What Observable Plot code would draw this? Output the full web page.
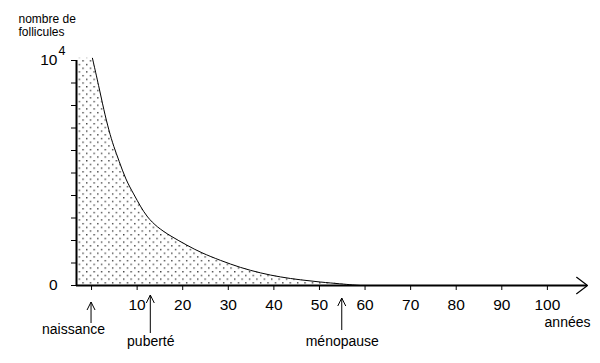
<!DOCTYPE html>
<html><head><meta charset="utf-8">
<script src="https://cdn.jsdelivr.net/npm/d3@7"></script>
<script src="https://cdn.jsdelivr.net/npm/@observablehq/plot@0.6"></script>
<style>
body{margin:0;background:#fff;}
#chart{width:600px;height:363px;}
</style></head><body><div id="chart"></div>
<script>
// Curve: age (years) -> number of follicles
const ages      = [0.2, 1.6, 2.7, 3.8, 4.9, 6.0, 7.5, 9.3, 10.7, 12.2, 14.4, 17.3, 21, 24, 28.3, 32.7, 37.1, 41.5, 45.8, 50.2, 54.6, 57.5, 59];
const follicles = [10100, 8850, 7800, 6890, 6150, 5560, 4700, 4050, 3520, 3040, 2590, 2200, 1780, 1460, 1110, 790, 550, 370, 250, 150, 75, 20, 0];
const xTicks = [0, 10, 20, 30, 40, 50, 60, 70, 80, 90, 100];
const yTicks = [0, 1000, 2000, 3000, 4000, 5000, 6000, 7000, 8000, 9000, 10000];
const eventLabels = ["naissance", "puberté", "ménopause"];
const eventAges = [0, 13, 55];
const xMin = -3.3, xMax = 108.8;
const yLabel = "nombre de\nfollicules";
const xLabel = "années";

const curve = ages.map((a, i) => ({age: a, n: follicles[i]}));
const topStrip = [{age: xMin, n: follicles[0]}, {age: ages[0], n: follicles[0]}];
const events = eventLabels.map((l, i) => ({label: l, age: eventAges[i]}));

const font = '"Liberation Sans", Arial, sans-serif';

const plot = Plot.plot({
  width: 600, height: 363,
  marginLeft: 76, marginRight: 13, marginTop: 60, marginBottom: 78,
  x: {domain: [xMin, xMax]},
  y: {domain: [0, 10000]},
  style: {fontFamily: font, background: "#fff", color: "#000"},
  marks: [
    Plot.areaY(topStrip, {x: "age", y: "n", fill: "url(#dots)"}),
    Plot.areaY(curve, {x: "age", y: "n", fill: "url(#dots)", curve: "basis"}),
    Plot.line(curve, {x: "age", y: "n", stroke: "#000", strokeWidth: 1, curve: "basis"}),
    Plot.ruleX([xMin], {stroke: "#000", strokeWidth: 2}),
    Plot.ruleY([0], {stroke: "#000", strokeWidth: 2}),
    Plot.arrow([{x1: xMin, x2: xMax, y: 0}], {x1: "x1", x2: "x2", y1: "y", y2: "y", headAngle: 74, headLength: 17, strokeWidth: 1.2, stroke: "#000"}),
    Plot.axisX({ticks: xTicks, tickSize: 5, tickPadding: 8, tickFormat: d => d === 0 ? "" : d, fontSize: 15.5, label: null}),
    Plot.axisY({ticks: yTicks, tickSize: 5, tickPadding: 14, tickFormat: d => d === 0 ? "0" : d === 10000 ? "10" : "", fontSize: 15.5, label: null}),
    Plot.text([10000], {y: d => d, frameAnchor: "left", text: () => "4", textAnchor: "start", dx: -18, dy: -10, fontSize: 12.5}),
    Plot.text([yLabel], {frameAnchor: "top-left", dx: -58, dy: -47, textAnchor: "start", lineAnchor: "top", fontSize: 12, lineHeight: 1.1}),
    Plot.text([xLabel], {frameAnchor: "bottom-right", dx: 3, dy: 41, textAnchor: "end", fontSize: 14}),
    Plot.text(events.slice(0, 1), {x: "age", frameAnchor: "bottom", text: "label", dx: -18, dy: 48, fontSize: 14}),
    Plot.text(events.slice(1), {x: "age", frameAnchor: "bottom", text: "label", dy: 60, fontSize: 14})
  ]
});

// dot pattern for the shaded area
const svg = d3.select(plot);
const pat = svg.insert("defs", ":first-child").append("pattern")
  .attr("id", "dots").attr("patternUnits", "userSpaceOnUse")
  .attr("width", 7.4).attr("height", 7.4);
pat.append("rect").attr("x", 1).attr("y", 1).attr("width", 1.3).attr("height", 1.3).attr("fill", "#222");
pat.append("rect").attr("x", 4.7).attr("y", 4.7).attr("width", 1.3).attr("height", 1.3).attr("fill", "#222");

// event arrows below the axis, positioned with the plot's scales
const xs = plot.scale("x"), ys = plot.scale("y");
const y0 = ys.apply(0);
const spans = [[17, 38], [10, 48], [13, 45]];
const g = svg.append("g").attr("stroke", "#000").attr("fill", "none").attr("stroke-width", 1);
events.forEach((e, i) => {
  const x = xs.apply(e.age);
  const [t, b] = spans[i];
  g.append("path").attr("d", `M${x},${y0 + b}V${y0 + t}M${x - 4},${y0 + t + 8}L${x},${y0 + t}L${x + 4},${y0 + t + 8}`);
});

document.getElementById("chart").appendChild(plot);
</script></body></html>
